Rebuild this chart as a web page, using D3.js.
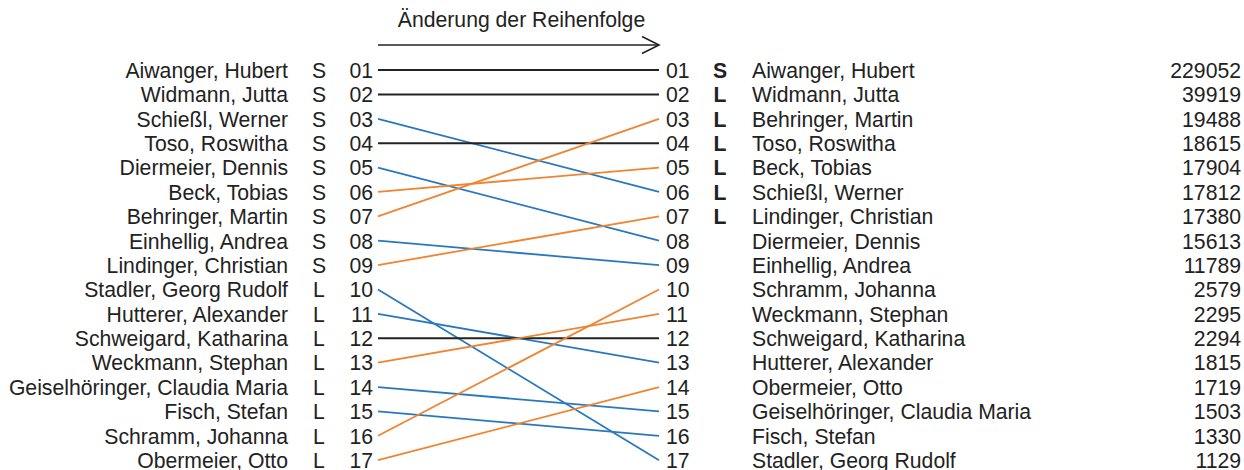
<!DOCTYPE html>
<html>
<head>
<meta charset="utf-8">
<script src="https://cdn.jsdelivr.net/npm/d3@7"></script>
<style>
  body { margin: 0; background: #fff; }
  svg text { font-family: "Liberation Sans", Arial, Helvetica, sans-serif; font-size: 21.2px; fill: #222; }
</style>
</head>
<body>
<div id="chart"></div>
<script>
  const w = 1244, h = 470;

  // Listenreihenfolge (links)
  const leftNames = ["Aiwanger, Hubert", "Widmann, Jutta", "Schießl, Werner", "Toso, Roswitha",
    "Diermeier, Dennis", "Beck, Tobias", "Behringer, Martin", "Einhellig, Andrea",
    "Lindinger, Christian", "Stadler, Georg Rudolf", "Hutterer, Alexander", "Schweigard, Katharina",
    "Weckmann, Stephan", "Geiselhöringer, Claudia Maria", "Fisch, Stefan", "Schramm, Johanna",
    "Obermeier, Otto"];
  const leftMarks = ["S","S","S","S","S","S","S","S","S","L","L","L","L","L","L","L","L"];

  // Reihenfolge nach Stimmen (rechts)
  const rightNames = ["Aiwanger, Hubert", "Widmann, Jutta", "Behringer, Martin", "Toso, Roswitha",
    "Beck, Tobias", "Schießl, Werner", "Lindinger, Christian", "Diermeier, Dennis",
    "Einhellig, Andrea", "Schramm, Johanna", "Weckmann, Stephan", "Schweigard, Katharina",
    "Hutterer, Alexander", "Obermeier, Otto", "Geiselhöringer, Claudia Maria", "Fisch, Stefan",
    "Stadler, Georg Rudolf"];
  const rightMarks = ["S","L","L","L","L","L","L","","","","","","","","","",""];
  const votes = [229052, 39919, 19488, 18615, 17904, 17812, 17380, 15613, 11789,
    2579, 2295, 2294, 1815, 1719, 1503, 1330, 1129];

  const ranks = ["01","02","03","04","05","06","07","08","09","10","11","12","13","14","15","16","17"];

  const title = "Änderung der Reihenfolge";

  const x0 = 378, x1 = 659;

  const y = d3.scalePoint()
    .domain(ranks)
    .range([70, 460.2]);

  const svg = d3.select("#chart")
    .append("svg")
    .attr("width", w)
    .attr("height", h);

  // Titel + Pfeil
  svg.append("text")
    .attr("x", (x0 + x1) / 2 + 3)
    .attr("y", 27)
    .attr("text-anchor", "middle")
    .text(title);

  svg.append("path")
    .attr("d", d3.line()([[x0, 45], [x1, 45]]))
    .style("stroke", "#222").style("stroke-width", "1.6px").style("fill", "none");
  svg.append("path")
    .attr("d", d3.line()([[x1 - 17, 36.5], [x1, 45], [x1 - 17, 53.5]]))
    .style("stroke", "#222").style("stroke-width", "1.6px").style("fill", "none");

  // linke Seite
  const left = svg.append("g");
  leftNames.forEach((name, i) => {
    const yy = y(ranks[i]);
    left.append("text").attr("x", 288).attr("y", yy).attr("dy", "0.37em")
      .attr("text-anchor", "end").text(name);
    left.append("text").attr("x", 319).attr("y", yy).attr("dy", "0.37em")
      .attr("text-anchor", "middle").text(leftMarks[i]);
    left.append("text").attr("x", 373).attr("y", yy).attr("dy", "0.37em")
      .attr("text-anchor", "end").text(ranks[i]);
  });

  // rechte Seite
  const right = svg.append("g");
  rightNames.forEach((name, i) => {
    const yy = y(ranks[i]);
    right.append("text").attr("x", 666).attr("y", yy).attr("dy", "0.37em").text(ranks[i]);
    right.append("text").attr("x", 720).attr("y", yy).attr("dy", "0.37em")
      .attr("text-anchor", "middle").style("font-weight", "bold").text(rightMarks[i]);
    right.append("text").attr("x", 752).attr("y", yy).attr("dy", "0.37em").text(name);
    right.append("text").attr("x", 1241).attr("y", yy).attr("dy", "0.37em")
      .attr("text-anchor", "end").text(votes[i]);
  });

  // Verbindungslinien
  leftNames.forEach((name, i) => {
    const j = rightNames.indexOf(name);
    const col = j === i ? "#222" : (j > i ? "#2878c0" : "#ef8431");
    svg.append("path")
      .attr("d", d3.line()([[x0, y(ranks[i])], [x1, y(ranks[j])]]))
      .style("fill", "none")
      .style("stroke", col)
      .style("stroke-width", j === i ? "2px" : "1.8px");
  });
</script>
</body>
</html>
